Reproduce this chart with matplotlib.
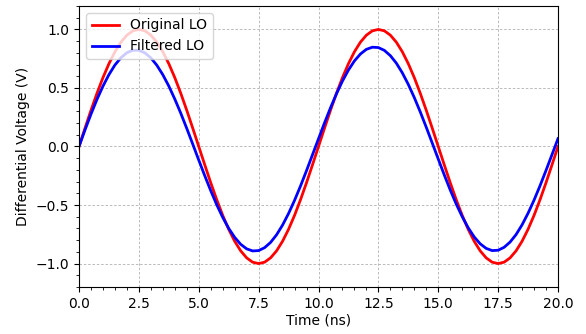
import numpy as np
import matplotlib
matplotlib.use("Agg")
import matplotlib.pyplot as plt

# Time samples (ns), 0.25 ns apart from 0 to 20
time_ns = np.arange(81) * 0.25

original_lo = [
    0.000, 0.156, 0.309, 0.454, 0.588, 0.707, 0.809, 0.891, 0.951, 0.988,
    1.000, 0.988, 0.951, 0.891, 0.809, 0.707, 0.588, 0.454, 0.309, 0.156,
    0.000, -0.156, -0.309, -0.454, -0.588, -0.707, -0.809, -0.891, -0.951, -0.988,
    -1.000, -0.988, -0.951, -0.891, -0.809, -0.707, -0.588, -0.454, -0.309, -0.156,
    0.000, 0.156, 0.309, 0.454, 0.588, 0.707, 0.809, 0.891, 0.951, 0.988,
    1.000, 0.988, 0.951, 0.891, 0.809, 0.707, 0.588, 0.454, 0.309, 0.156,
    0.000, -0.156, -0.309, -0.454, -0.588, -0.707, -0.809, -0.891, -0.951, -0.988,
    -1.000, -0.988, -0.951, -0.891, -0.809, -0.707, -0.588, -0.454, -0.309, -0.156,
    0.000,
]

filtered_lo = [
    0.000, 0.141, 0.276, 0.402, 0.515, 0.614, 0.696, 0.758, 0.801, 0.822,
    0.822, 0.800, 0.757, 0.694, 0.613, 0.516, 0.405, 0.284, 0.154, 0.020,
    -0.116, -0.249, -0.377, -0.497, -0.605, -0.699, -0.776, -0.835, -0.874, -0.892,
    -0.889, -0.864, -0.819, -0.754, -0.671, -0.572, -0.460, -0.337, -0.206, -0.070,
    0.066, 0.201, 0.330, 0.450, 0.559, 0.653, 0.731, 0.790, 0.830, 0.848,
    0.845, 0.821, 0.776, 0.712, 0.629, 0.530, 0.418, 0.295, 0.164, 0.029,
    -0.107, -0.242, -0.371, -0.491, -0.599, -0.694, -0.772, -0.831, -0.870, -0.889,
    -0.886, -0.861, -0.816, -0.752, -0.669, -0.570, -0.458, -0.335, -0.204, -0.069,
    0.067,
]

fig = plt.figure(figsize=(5.86, 3.34), dpi=100)
ax = fig.add_axes([79/586, 1 - 287/334, (558 - 79)/586, (287 - 6)/334])

ax.plot(time_ns, original_lo, color="red", lw=2, label="Original LO")
ax.plot(time_ns, filtered_lo, color="blue", lw=2, label="Filtered LO")

ax.set_xlim(0, 20)
ax.set_ylim(-1.2, 1.2)
ax.set_xticks([0, 2.5, 5, 7.5, 10, 12.5, 15, 17.5, 20])
ax.set_yticks([-1.0, -0.5, 0.0, 0.5, 1.0])
ax.minorticks_on()
ax.grid(True, which="major", linestyle=(0, (3, 2.2)), color="#b0b0b0", linewidth=0.6)
ax.set_xlabel("Time (ns)", labelpad=2)
ax.set_ylabel("Differential Voltage (V)")
ax.legend(loc="upper left", fontsize=10)

fig.savefig("out.png", dpi=100)
